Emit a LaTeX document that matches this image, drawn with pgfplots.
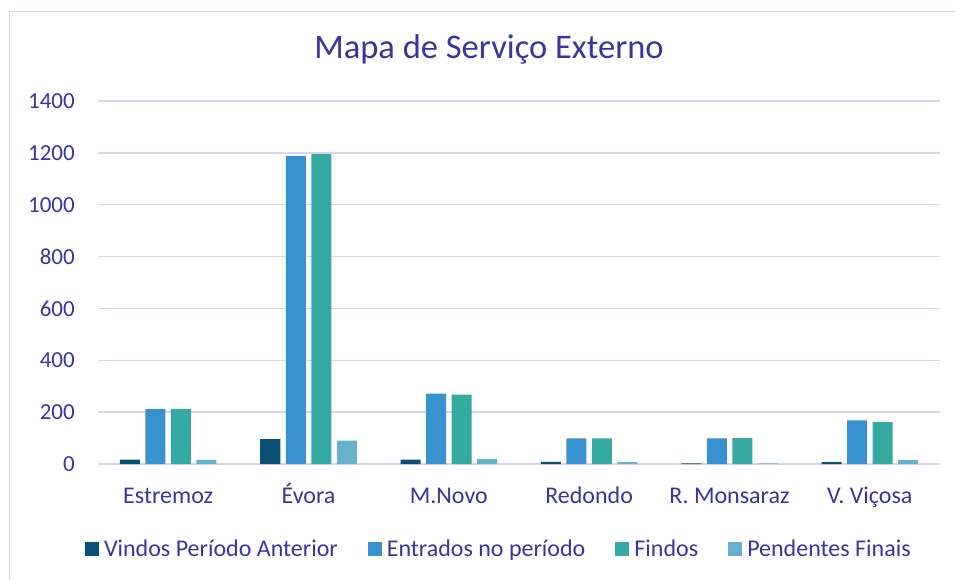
\documentclass[border=0pt]{standalone}
\usepackage{fontspec}
\setmainfont{Carlito}
\usepackage{pgfplots}
\pgfplotsset{compat=1.18}
\definecolor{txt}{RGB}{58,52,160}
\definecolor{gridc}{RGB}{217,212,240}
\definecolor{cVindos}{RGB}{11,79,117}
\definecolor{cEntr}{RGB}{56,146,208}
\definecolor{cFindos}{RGB}{53,170,161}
\definecolor{cPend}{RGB}{102,178,204}

\begin{document}
\begin{tikzpicture}[x=1pt,y=1pt]
\useasboundingbox (-98,-115) rectangle (857,464);
\draw[gridc, line width=1.3pt] (-88.5,-116) -- (-88.5,452.5) -- (858,452.5);
\begin{axis}[
    at={(0,0)}, anchor=south west,
    scale only axis, width=842pt, height=363pt,
    ybar=5.5pt, bar width=20pt,
    xmin=-0.5, xmax=5.5, ymin=0, ymax=1400,
    xtick={0,1,2,3,4,5},
    xticklabels={Estremoz, Évora, M.Novo, Redondo, R. Monsaraz, V. Viçosa},
    ytick={0,200,400,600,800,1000,1200,1400},
    axis line style={draw=none},
    major tick length=0pt,
    ymajorgrids, grid style={gridc, line width=1.3pt},
    tick label style={text=txt},
    yticklabel style={font=\fontsize{23}{27}\selectfont, inner sep=0pt, anchor=east, xshift=-23pt},
    xticklabel style={font=\fontsize{24}{28}\selectfont, inner sep=0pt, anchor=base, yshift=-39pt},
    /pgf/number format/assume math mode=true,
    /pgf/number format/1000 sep={},
    legend columns=4,
    legend style={at={(-0.0154,-0.2333)}, anchor=west, draw=none, fill=none,
        inner sep=0pt, outer sep=0pt,
        font=\fontsize{24}{28}\selectfont, text=txt,
        /tikz/every even column/.append style={column sep=28pt}},
    legend image code/.code={\fill[#1] (0pt,-7pt) rectangle (14pt,7pt); \path (17pt,0pt);},
]
\addplot[fill=cVindos, draw=none] coordinates {(0,17)(1,96)(2,17)(3,8)(4,2)(5,7)};
\addplot[fill=cEntr, draw=none] coordinates {(0,212)(1,1188)(2,271)(3,99)(4,99)(5,168)};
\addplot[fill=cFindos, draw=none] coordinates {(0,212)(1,1195)(2,268)(3,99)(4,100)(5,162)};
\addplot[fill=cPend, draw=none] coordinates {(0,16)(1,90)(2,19)(3,7)(4,2)(5,15)};
\legend{Vindos Período Anterior, Entrados no período, Findos, Pendentes Finais}
\end{axis}
\node[anchor=base, text=txt, font=\fontsize{34.5}{38}\selectfont] at (391,405.5) {Mapa de Serviço Externo};
\end{tikzpicture}
\end{document}
